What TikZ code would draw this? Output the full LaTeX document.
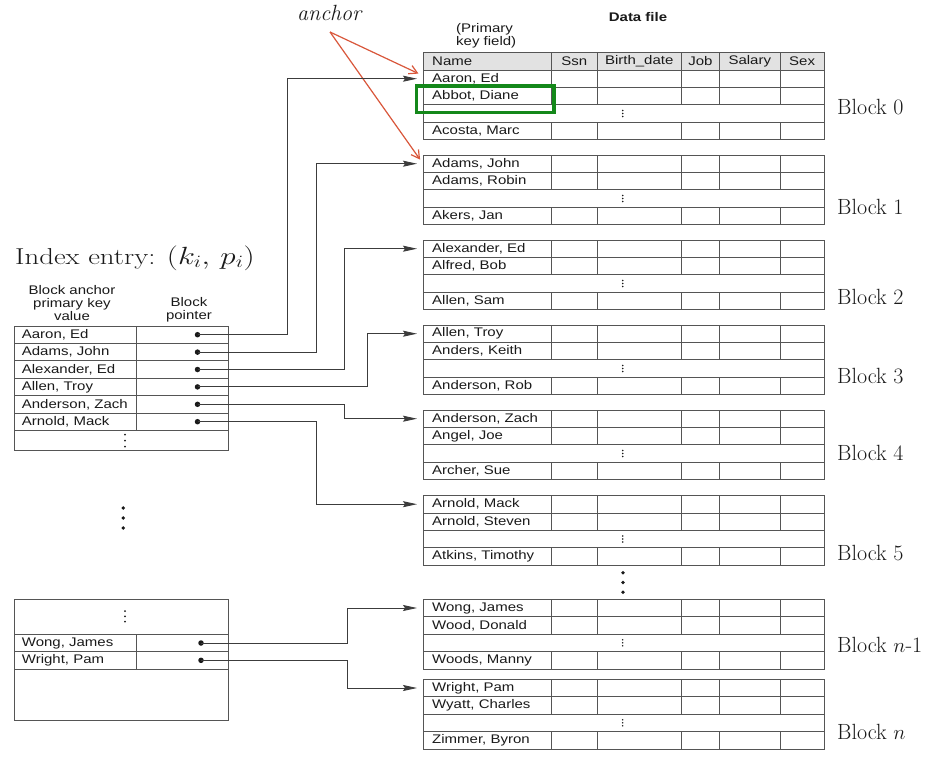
\documentclass[tikz,border=0pt]{standalone}
\usepackage{fontspec}
\newfontfamily\tabfont[FakeStretch=1.2]{Liberation Sans}
\usetikzlibrary{arrows.meta,calc}
\definecolor{linegray}{HTML}{555555}
\definecolor{hdrgray}{HTML}{E2E2E2}
\definecolor{anchred}{HTML}{D9573B}
\definecolor{boxgreen}{HTML}{14881A}
\definecolor{ink}{HTML}{1A1A1A}
\begin{document}
\begin{tikzpicture}[x=1pt,y=-1pt,
  tab/.style={font=\tabfont\fontsize{12.5}{13}\selectfont, text=ink, inner sep=0pt},
  cell/.style={tab, anchor=west, inner xsep=9pt, inner ysep=0pt, minimum height=17.4pt},
  icell/.style={cell, inner xsep=7.7pt},
  grid/.style={draw=linegray, line width=0.8pt},
  conn/.style={draw=ink!85, line width=0.9pt},
  arr/.style={conn, -{Stealth[length=14pt,width=6pt,inset=2pt]}, shorten >=6pt},
  ptr/.style={circle, fill=ink, inner sep=0pt, minimum size=5.5pt},
  big/.style={font=\fontsize{22}{26}\selectfont, text=ink, inner sep=0pt},
  redarr/.style={draw=anchred, line width=1.2pt, -{Straight Barb[length=8pt,width=9pt]}, shorten >=5pt},
  dot/.style={fill=ink}]
\fill[white] (0,0) rectangle (937,772);
\useasboundingbox (0,0) rectangle (937,772);

% ---------- data file header ----------
\node[tab, font=\tabfont\bfseries\fontsize{12.5}{13}\selectfont] (datafile) at (638,17) {Data file};
\node[tab, anchor=west, align=left] (pkf) at (456,36) {(Primary\\key field)};
\fill[hdrgray] (423,52.6) rectangle (824,70);
\draw[grid] (423,52.6) rectangle (824,70);
\foreach \c in {551.7,597,681.5,719.3,780.3} \draw[grid] (\c,52.6) -- (\c,70);
\node[cell] (hname) at (423,61.3) {Name};
\node[tab] (hssn) at (574.3,61.3) {Ssn};
\node[tab] (hbd) at (639.2,61.3) {Birth\_date};
\node[tab] (hjob) at (700.4,61.3) {Job};
\node[tab] (hsal) at (749.8,61.3) {Salary};
\node[tab] (hsex) at (802.1,61.3) {Sex};

% ---------- data blocks ----------
\foreach \id/\top/\ra/\rb/\rc/\lbl/\ly in {
  0/70/{Aaron, Ed}/{Abbot, Diane}/{Acosta, Marc}/{Block 0}/106.7,
  1/155/{Adams, John}/{Adams, Robin}/{Akers, Jan}/{Block 1}/207,
  2/240/{Alexander, Ed}/{Alfred, Bob}/{Allen, Sam}/{Block 2}/297,
  3/325/{Allen, Troy}/{Anders, Keith}/{Anderson, Rob}/{Block 3}/376,
  4/410/{Anderson, Zach}/{Angel, Joe}/{Archer, Sue}/{Block 4}/453,
  5/495.5/{Arnold, Mack}/{Arnold, Steven}/{Atkins, Timothy}/{Block 5}/553,
  n1/599.3/{Wong, James}/{Wood, Donald}/{Woods, Manny}/{Block $n$-1}/645,
  n/679.3/{Wright, Pam}/{Wyatt, Charles}/{Zimmer, Byron}/{Block $n$}/732}
{
  \draw[grid] (423,\top) rectangle (824,\top+69.6);
  \foreach \k in {1,2,3} \draw[grid] (423,\top+\k*17.4) -- (824,\top+\k*17.4);
  \foreach \c in {551.7,597,681.5,719.3,780.3} {
    \draw[grid] (\c,\top) -- (\c,\top+34.8);
    \draw[grid] (\c,\top+52.2) -- (\c,\top+69.6);
  }
  \node[cell] (b\id-1) at (423,\top+8.7) {\ra};
  \node[cell] (b\id-2) at (423,\top+26.1) {\rb};
  \node[cell] (b\id-4) at (423,\top+60.9) {\rc};
  \foreach \d in {-3,0,3} \fill[dot] (622.7,\top+43.5+\d) circle (0.85pt);
  \node[big, anchor=west] (lab\id) at (837,\ly) {\lbl};
}

% dots between blocks
\foreach \d in {572.7,582.5,592.3} \fill[dot] (623,\d) circle (1.9pt);

% ---------- anchor annotation ----------
\node[big] (anch) at (330,13) {\textit{anchor}};
\coordinate (ancstart) at (330,32);
\draw[redarr] (ancstart) -- ($(b0-1.west)+(0,-3)$);
\draw[redarr] (ancstart) -- (b1-1.west);
\draw[boxgreen, line width=3.5pt] (416.7,86) rectangle (554,112.7);

% ---------- index ----------
\node[anchor=west, inner sep=0pt, text=ink] (ientry) at (15,258)
  {\scalebox{1.25}[1]{\fontsize{23}{27}\selectfont Index entry: $(k_i,\,p_i)$}};
\node[tab, align=center] (hanchor) at (72,303) {Block anchor\\primary key\\value};
\node[tab, align=center] (hptr) at (189,309.5) {Block\\pointer};

\draw[grid] (14,326) rectangle (228.5,450.7);
\foreach \k in {1,...,6} \draw[grid] (14,326+\k*17.4) -- (228.5,326+\k*17.4);
\draw[grid] (136.7,326) -- (136.7,430.4);
\foreach \d in {434.5,440.5,446.5} \fill[dot] (125,\d) circle (1pt);

\foreach \k/\nm in {1/{Aaron, Ed},2/{Adams, John},3/{Alexander, Ed},4/{Allen, Troy},5/{Anderson, Zach},6/{Arnold, Mack}} {
  \node[icell] (i\k) at (14,317.3+\k*17.4) {\nm};
  \node[ptr] (p\k) at (197.5,317.3+\k*17.4) {};
}

\foreach \d in {508,518,528} \fill[dot] (123.3,\d) circle (1.9pt);

\draw[grid] (14,599.3) rectangle (228.5,720);
\draw[grid] (14,634.3) -- (228.5,634.3);
\draw[grid] (14,651.7) -- (228.5,651.7);
\draw[grid] (14,669) -- (228.5,669);
\draw[grid] (136.7,634.3) -- (136.7,669);
\foreach \d in {611,616.3,621.7} \fill[dot] (125,\d) circle (1pt);
\node[icell] (j1) at (14,643) {Wong, James};
\node[icell] (j2) at (14,660.3) {Wright, Pam};
\node[ptr] (q1) at (201,643) {};
\node[ptr] (q2) at (201,660.3) {};

% ---------- connectors ----------
\coordinate (v1) at (287.3,0);
\coordinate (v2) at (316.7,0);
\coordinate (v3) at (344.3,0);
\coordinate (v4) at (367.3,0);
\coordinate (v5) at (347,0);
\draw[arr] (p1.center) -- (p1.center -| v1) |- (b0-1.west);
\draw[arr] (p2.center) -- (p2.center -| v2) |- (b1-1.west);
\draw[arr] (p3.center) -- (p3.center -| v3) |- (b2-1.west);
\draw[arr] (p4.center) -- (p4.center -| v4) |- (b3-1.west);
\draw[arr] (p5.center) -- (p5.center -| v3) |- (b4-1.west);
\draw[arr] (p6.center) -- (p6.center -| v2) |- (b5-1.west);
\draw[arr] (q1.center) -- (q1.center -| v5) |- (bn1-1.west);
\draw[arr] (q2.center) -- (q2.center -| v5) |- (bn-1.west);
\end{tikzpicture}
\end{document}
